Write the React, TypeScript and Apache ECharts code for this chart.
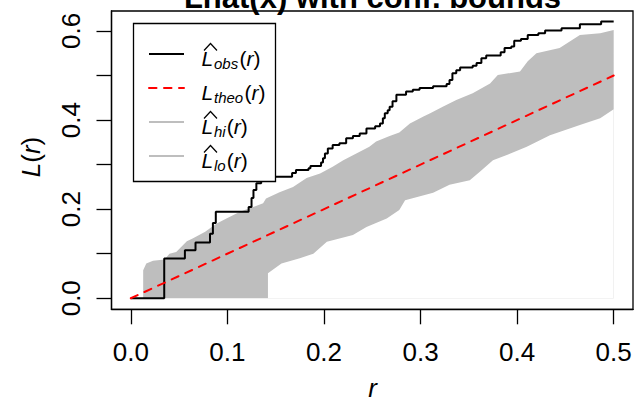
import React, { useEffect, useRef } from 'react';
import * as echarts from 'echarts';

const titleText = 'Lhat(x) with conf. bounds';

const obsR = [0, 0.0346, 0.056, 0.067, 0.082, 0.085, 0.088, 0.122, 0.125, 0.127, 0.13, 0.135, 0.145, 0.167, 0.171, 0.184, 0.186, 0.197, 0.199, 0.201, 0.204, 0.209, 0.216, 0.223, 0.23, 0.237, 0.244, 0.253, 0.258, 0.261, 0.263, 0.266, 0.268, 0.271, 0.275, 0.285, 0.292, 0.299, 0.313, 0.327, 0.33, 0.333, 0.337, 0.341, 0.354, 0.358, 0.363, 0.368, 0.383, 0.387, 0.394, 0.397, 0.404, 0.411, 0.422, 0.429, 0.446, 0.465, 0.487, 0.5];
const obsL = [0, 0.089, 0.108, 0.125, 0.145, 0.169, 0.194, 0.205, 0.225, 0.243, 0.258, 0.265, 0.273, 0.281, 0.288, 0.292, 0.297, 0.305, 0.314, 0.325, 0.336, 0.344, 0.348, 0.359, 0.364, 0.37, 0.381, 0.386, 0.392, 0.404, 0.415, 0.422, 0.43, 0.442, 0.457, 0.464, 0.468, 0.472, 0.476, 0.481, 0.49, 0.505, 0.512, 0.518, 0.522, 0.528, 0.539, 0.545, 0.552, 0.562, 0.565, 0.578, 0.582, 0.591, 0.595, 0.601, 0.606, 0.615, 0.621, 0.621];

const theoR = [0, 0.5];
const theoL = [0, 0.5];

const hiR = [0, 0.0128, 0.0128, 0.016, 0.023, 0.035, 0.04, 0.047, 0.058, 0.064, 0.077, 0.082, 0.089, 0.099, 0.113, 0.123, 0.137, 0.14, 0.154, 0.168, 0.182, 0.196, 0.209, 0.22, 0.237, 0.247, 0.254, 0.268, 0.278, 0.289, 0.303, 0.31, 0.323, 0.337, 0.354, 0.372, 0.38, 0.403, 0.411, 0.42, 0.444, 0.465, 0.486, 0.5];
const hiL = [0, 0, 0.063, 0.078, 0.084, 0.087, 0.1, 0.104, 0.128, 0.134, 0.149, 0.157, 0.168, 0.179, 0.194, 0.202, 0.213, 0.224, 0.238, 0.25, 0.27, 0.28, 0.295, 0.31, 0.329, 0.34, 0.352, 0.364, 0.372, 0.392, 0.408, 0.415, 0.43, 0.445, 0.46, 0.482, 0.501, 0.509, 0.532, 0.55, 0.562, 0.591, 0.595, 0.602];

const loR = [0, 0.142, 0.142, 0.156, 0.175, 0.189, 0.203, 0.218, 0.23, 0.244, 0.265, 0.278, 0.284, 0.313, 0.33, 0.351, 0.362, 0.375, 0.39, 0.41, 0.434, 0.465, 0.486, 0.5];
const loL = [0, 0, 0.056, 0.078, 0.09, 0.1, 0.127, 0.135, 0.142, 0.16, 0.179, 0.198, 0.22, 0.237, 0.255, 0.265, 0.285, 0.31, 0.322, 0.34, 0.366, 0.389, 0.404, 0.424];

const xTicks = [0, 0.1, 0.2, 0.3, 0.4, 0.5];
const yTicks = [0, 0.1, 0.2, 0.3, 0.4, 0.5, 0.6];
const yLabels = [0, 0.2, 0.4, 0.6];

const legendSubs = ['obs', 'theo', 'hi', 'lo'];
const legendHats = [true, false, true, true];

const FONT = '"Liberation Sans", Arial, Helvetica, sans-serif';

export default function App() {
  const ref = useRef<HTMLDivElement>(null);
  useEffect(() => {
    if (!ref.current) return;
    const chart = echarts.init(ref.current, null, { renderer: 'svg' });

    const rowY = [54, 88, 122, 156];
    const subW: Record<string, number> = { obs: 24.5, theo: 29.5, hi: 11.7, lo: 11.7 };
    const legendEls: any[] = [
      {
        type: 'rect',
        shape: { x: 133.5, y: 23.5, width: 142, height: 158 },
        style: { fill: '#fff', stroke: '#000', lineWidth: 1.3 },
        z: 100,
      },
    ];
    const lineStyles = [
      { stroke: '#000', lineWidth: 2 },
      { stroke: '#FF0000', lineWidth: 2, lineDash: [7.5, 7.5], lineCap: 'round' },
      { stroke: '#BEBEBE', lineWidth: 2 },
      { stroke: '#BEBEBE', lineWidth: 2 },
    ];
    legendSubs.forEach((sub, i) => {
      const cy = rowY[i];
      legendEls.push({
        type: 'line',
        shape: { x1: 149, y1: cy, x2: 184, y2: cy },
        style: lineStyles[i],
        z: 101,
      });
      if (legendHats[i]) {
        legendEls.push({
          type: 'polyline',
          shape: { points: [[204, cy - 3.5], [210.5, cy - 10.5], [217, cy - 3.5]] },
          style: { stroke: '#000', lineWidth: 1.2, fill: 'none' },
          z: 101,
        });
      }
      legendEls.push({
        type: 'text',
        x: 201.5,
        y: cy + 4.5,
        style: { text: 'L', fontSize: 21, fontStyle: 'italic', fontFamily: FONT, fill: '#000', align: 'left', verticalAlign: 'middle' },
        z: 101,
      });
      legendEls.push({
        type: 'text',
        x: 214,
        y: cy + 9,
        style: { text: sub, fontSize: 15, fontStyle: 'italic', fontFamily: FONT, fill: '#000', align: 'left', verticalAlign: 'middle' },
        z: 101,
      });
      legendEls.push({
        type: 'text',
        x: 214 + subW[sub] + 1,
        y: cy + 4.5,
        style: {
          text: '{n|(}{i|r}{n|)}',
          rich: {
            n: { fontSize: 21, fontFamily: FONT, fill: '#000' },
            i: { fontSize: 21, fontFamily: FONT, fontStyle: 'italic', fill: '#000' },
          },
          align: 'left',
          verticalAlign: 'middle',
        },
        z: 101,
      });
    });

    const option: any = {
      animation: false,
      grid: { left: 111.5, right: 10, top: 11, bottom: 91.7, show: true, borderColor: '#000', borderWidth: 1.3, outerBoundsMode: 'none' },
      xAxis: {
        type: 'value',
        min: -0.02,
        max: 0.52,
        axisLine: { show: true, onZero: false, lineStyle: { color: '#000', width: 1.3 } },
        axisTick: { show: true, inside: false, length: 15, customValues: xTicks, lineStyle: { color: '#000', width: 1.3 } },
        axisLabel: { show: true, customValues: xTicks, margin: 30, fontSize: 26, fontFamily: FONT, color: '#000', formatter: (v: number) => v.toFixed(1) },
        splitLine: { show: false },
      },
      yAxis: {
        type: 'value',
        min: -0.0248,
        max: 0.6448,
        axisLine: { show: true, onZero: false, lineStyle: { color: '#000', width: 1.3 } },
        axisTick: { show: true, inside: false, length: 15, customValues: yTicks, lineStyle: { color: '#000', width: 1.3 } },
        axisLabel: { show: true, customValues: yLabels, rotate: 90, margin: 28, fontSize: 26, fontFamily: FONT, color: '#000', formatter: (v: number) => v.toFixed(1) },
        splitLine: { show: false },
      },
      series: [
        {
          type: 'line', name: 'hi', data: hiR.map((r, i) => [r, hiL[i]]), symbol: 'none',
          lineStyle: { width: 0, opacity: 0 }, areaStyle: { color: '#BEBEBE', opacity: 1, origin: 'auto' }, z: 1, silent: true,
        },
        {
          type: 'line', name: 'lo', data: loR.map((r, i) => [r, loL[i]]), symbol: 'none',
          lineStyle: { width: 0, opacity: 0 }, areaStyle: { color: '#FFFFFF', opacity: 1, origin: 'auto' }, z: 2, silent: true,
        },
        {
          type: 'line', name: 'obs', data: obsR.map((r, i) => [r, obsL[i]]), step: 'end', symbol: 'none',
          lineStyle: { color: '#000', width: 2 }, z: 3, silent: true,
        },
        {
          type: 'line', name: 'theo', data: theoR.map((r, i) => [r, theoL[i]]), symbol: 'none',
          lineStyle: { color: '#FF0000', width: 2, type: [7.5, 7.5], cap: 'round' }, z: 4, silent: true,
        },
      ],
      graphic: [
        {
          type: 'text', x: 372.5, y: -3, z: 100,
          style: { text: titleText, fontSize: 31, fontWeight: 'bold', fontFamily: FONT, fill: '#000', align: 'center', verticalAlign: 'middle' },
        },
        {
          type: 'text', x: 31, y: 157, rotation: Math.PI / 2, z: 100,
          style: {
            text: '{i|L}{n|(}{i|r}{n|)}',
            rich: {
              i: { fontSize: 26, fontStyle: 'italic', fontFamily: FONT, fill: '#000' },
              n: { fontSize: 26, fontFamily: FONT, fill: '#000' },
            },
            align: 'center', verticalAlign: 'middle',
          },
        },
        {
          type: 'text', x: 372.5, y: 388, z: 100,
          style: { text: 'r', fontSize: 26, fontStyle: 'italic', fontFamily: FONT, fill: '#000', align: 'center', verticalAlign: 'middle' },
        },
        ...legendEls,
      ],
    };
    chart.setOption(option);
    return () => chart.dispose();
  }, []);
  return <div ref={ref} style={{ position: 'absolute', left: 0, top: 0, width: 643, height: 401 }} />;
}
